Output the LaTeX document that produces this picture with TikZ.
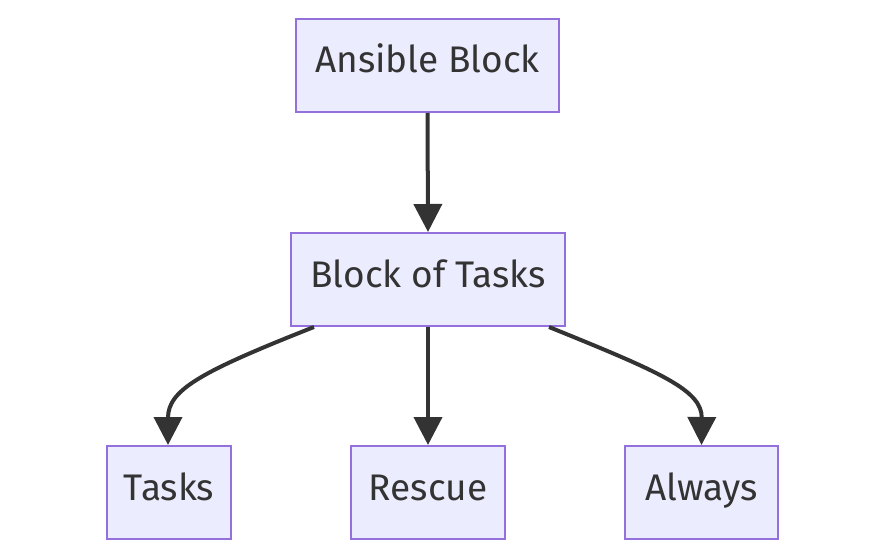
\documentclass[tikz,border=0pt]{standalone}
\usepackage{fontspec}
\setmainfont{Fira Sans}
\usetikzlibrary{arrows.meta}
\definecolor{nodefill}{HTML}{ECECFF}
\definecolor{nodeline}{HTML}{9370DB}
\definecolor{edgecol}{HTML}{333333}
\begin{document}
\begin{tikzpicture}[x=1pt,y=-1pt,
  box/.style={draw=nodeline,fill=nodefill,line width=2pt,inner sep=0pt,
    minimum height=93pt,text=edgecol,text height=26pt,text depth=11pt,
    font=\fontsize{37}{42}\selectfont},
  conn/.style={draw=edgecol,line width=4pt,-{Triangle[width=28pt,length=28pt]}}]
\useasboundingbox (0,0) rectangle (885,559);
\node[box,minimum width=263pt] (ans) at (427.5,65.5) {Ansible Block};
\node[box,minimum width=274pt] (bot) at (428,279.5) {Block of Tasks};
\node[box,minimum width=124pt] (tasks) at (169,492.5) {Tasks};
\node[box,minimum width=154pt] (rescue) at (428,492.5) {Rescue};
\node[box,minimum width=153pt] (always) at (701.5,492.5) {Always};
\draw[conn] (ans.south) -- (bot.north);
\draw[conn] (bot.south) -- (rescue.north);
\draw[conn] ([xshift=24pt]bot.south west) .. controls (200,372) and (168,390) .. ([xshift=-1pt]tasks.north);
\draw[conn] ([xshift=-17pt]bot.south east) .. controls (660,372) and (702,390) .. (always.north);
\end{tikzpicture}
\end{document}
